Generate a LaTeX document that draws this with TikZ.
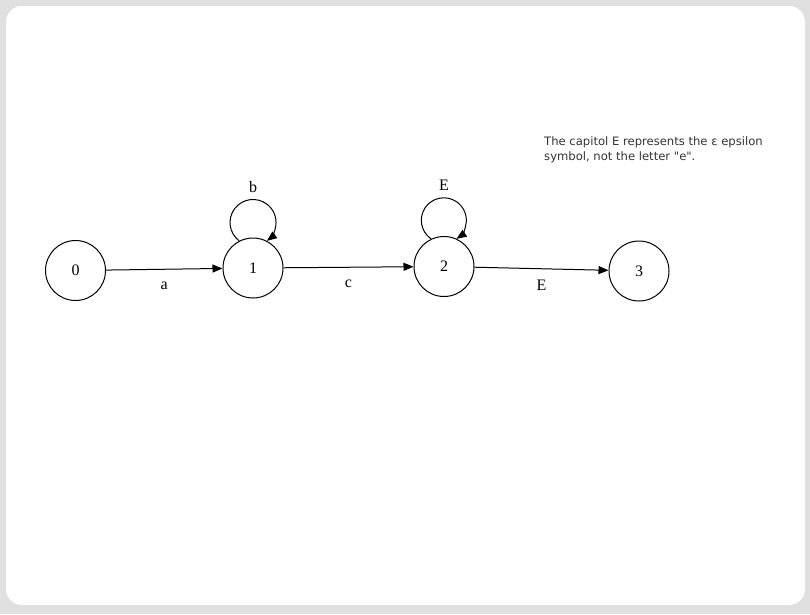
\documentclass[tikz,border=0pt]{standalone}
\usepackage{fontspec}
\setmainfont{Liberation Serif}
\newfontfamily\notefont{DejaVu Sans}
\usetikzlibrary{arrows.meta}
\definecolor{framegray}{RGB}{224,224,224}
\definecolor{notegray}{RGB}{51,51,51}
\tikzset{
  state/.style={draw, circle, line width=1pt, minimum size=60pt, inner sep=0pt, font=\fontsize{16}{16}\selectfont},
  trans/.style={line width=1pt, -{Triangle[length=10pt,width=8pt]}},
  elabel/.style={inner sep=0pt, font=\fontsize{16}{16}\selectfont}
}

\begin{document}
\begin{tikzpicture}[x=1pt,y=1pt]
			%%%%% START %%%%%
			
			\fill[framegray] (0, 0) rectangle (810, -614);
			\fill[white, rounded corners=16pt] (6, -6) rectangle (805, -605);
			\useasboundingbox (0, 0) rectangle (810, -614);
			
			\node[state] (q0) at (75.5, -270.5) {0};
			\node[state] (q1) at (253, -268) {1};
			\node[state] (q2) at (444, -266.5) {2};
			\node[state] (q3) at (639, -271) {3};
			
			\draw[trans] (q0) -- (q1) node[elabel, midway, yshift=-17pt] {a};
			\draw[trans] (q1) -- (q2) node[elabel, midway, yshift=-17pt] {c};
			\draw[trans] (q2) -- (q3) node[elabel, midway, yshift=-17pt] {E};
			
			\draw[trans] (q1.117.6) arc[start angle=232.9, end angle=-52.9, radius=23];
			\node[elabel] (lb) at ([yshift=81pt]q1.center) {b};
			\draw[trans] (q2.115.7) arc[start angle=235.6, end angle=-55.6, radius=22.5];
			\node[elabel] (le) at ([yshift=81.5pt]q2.center) {E};
			
			\node[anchor=north west, inner sep=0pt, align=left, text=notegray, font=\notefont\fontsize{11.6}{15}\selectfont] (note) at (544, -136.5) {The capitol E represents the ε epsilon\\symbol, not the letter "e".};
			
			%%%%% END %%%%%
		\end{tikzpicture}
\end{document}
